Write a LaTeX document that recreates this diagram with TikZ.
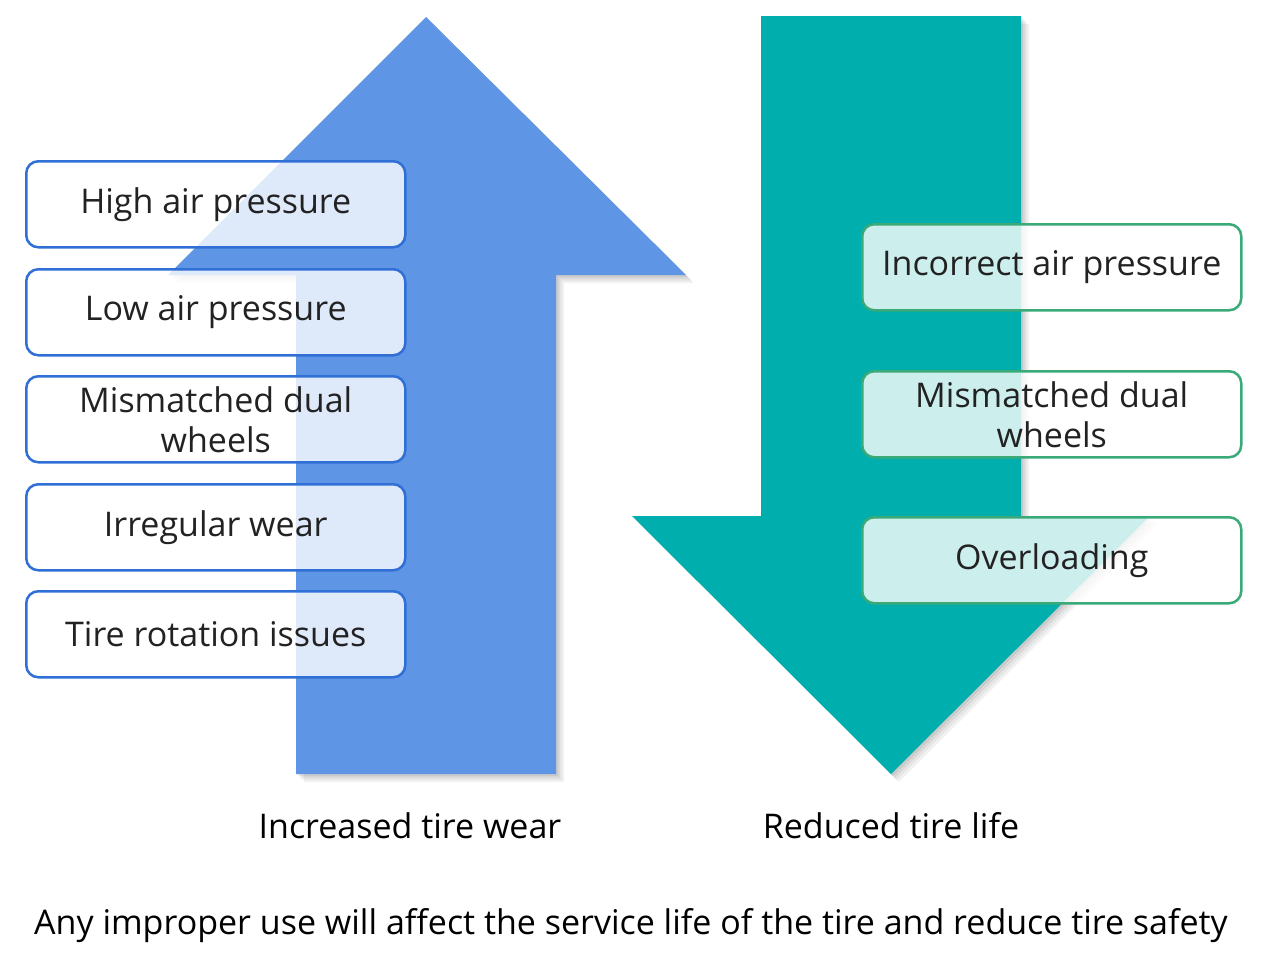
\documentclass[tikz,border=0pt]{standalone}
\usepackage{fontspec}
\setmainfont{Open Sans}
\begin{document}
\begin{tikzpicture}[x=1pt,y=-1pt,
  box/.style={rounded corners=12pt, line width=2.5pt, fill=white, fill opacity=0.8, text opacity=1, minimum width=379pt, minimum height=86pt, align=center, font=\fontsize{34}{40}\selectfont, text=txt, anchor=north west, inner sep=0pt},
  lbox/.style={box, draw=blueb},
  rbox/.style={box, draw=greenb},
  lbl/.style={font=\fontsize{34}{40}\selectfont, text=black}]
\definecolor{bluea}{HTML}{5E95E4}
\definecolor{blueb}{HTML}{2F6FD6}
\definecolor{greena}{HTML}{00AFAD}
\definecolor{greenb}{HTML}{3AAA78}
\definecolor{txt}{HTML}{222222}
\useasboundingbox (0,0) rectangle (1262,967);
% blue up arrow
\foreach \d/\o in {8/0.05,6/0.05,4/0.06,2/0.07}{
  \fill[black, opacity=\o] (426+\d,17+\d) -- (686+\d,275+\d) -- (556+\d,275+\d) -- (556+\d,774+\d) -- (296+\d,774+\d) -- (296+\d,275+\d) -- (168+\d,275+\d) -- cycle;}
\fill[bluea] (426,17) -- (686,275) -- (556,275) -- (556,774) -- (296,774) -- (296,275) -- (168,275) -- cycle;
% green down arrow
\foreach \d/\o in {8/0.05,6/0.05,4/0.06,2/0.07}{
  \fill[black, opacity=\o] (761+\d,16+\d) -- (1021+\d,16+\d) -- (1021+\d,516+\d) -- (1150+\d,516+\d) -- (891+\d,774+\d) -- (632+\d,516+\d) -- (761+\d,516+\d) -- cycle;}
\fill[greena] (761,16) -- (1021,16) -- (1021,516) -- (1150,516) -- (891,774) -- (632,516) -- (761,516) -- cycle;
% left boxes
\node[lbox] (l1) at (25,160) {High air pressure};
\node[lbox] (l2) at (25,268) {Low air pressure};
\node[lbox] (l3) at (25,375) {Mismatched dual\\wheels};
\node[lbox] (l4) at (25,483) {Irregular wear};
\node[lbox] (l5) at (25,590) {Tire rotation issues};
% right boxes
\node[rbox] (r1) at (861,223) {Incorrect air pressure};
\node[rbox] (r2) at (861,370) {Mismatched dual\\wheels};
\node[rbox] (r3) at (861,516) {Overloading};
% labels
\node[lbl] (la) at (410,826) {Increased tire wear};
\node[lbl] (lb) at (891,826) {Reduced tire life};
\node[lbl] (lc) at (631,926) {Any improper use will affect the service life of the tire and reduce tire safety};
\end{tikzpicture}
\end{document}
